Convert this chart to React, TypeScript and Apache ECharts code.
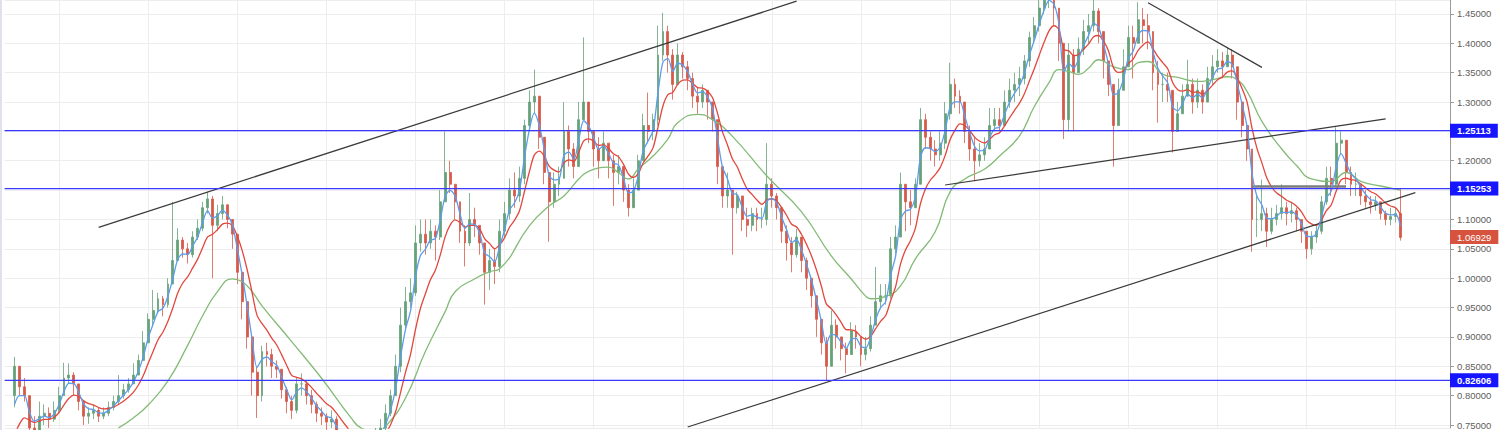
import React, { useEffect, useRef } from 'react';
import * as echarts from 'echarts';

// ---- data (one candle per ~3 weeks) ----
const firstOpen = 0.80;
const closes = [
  0.85, 0.815, 0.80, 0.745, 0.74, 0.765, 0.77, 0.76, 0.775, 0.80,
  0.83, 0.835, 0.82, 0.79, 0.765, 0.77, 0.775, 0.765, 0.77, 0.78,
  0.79, 0.80, 0.81, 0.82, 0.835, 0.86, 0.89, 0.93, 0.945, 0.965,
  0.955, 0.99, 1.03, 1.065, 1.05, 1.04, 1.07, 1.085, 1.12, 1.135,
  1.09, 1.11, 1.125, 1.10, 1.075, 1.01, 0.96, 0.90, 0.84, 0.80,
  0.875, 0.87, 0.85, 0.845, 0.81, 0.79, 0.775, 0.82, 0.82, 0.80,
  0.785, 0.77, 0.765, 0.755, 0.76, 0.735, 0.72, 0.71, 0.70, 0.705,
  0.70, 0.71, 0.72, 0.73, 0.745, 0.77, 0.80, 0.85, 0.92, 0.96,
  0.975, 1.06, 1.075, 1.06, 1.08, 1.07, 1.13, 1.18, 1.16, 1.13,
  1.08, 1.06, 1.10, 1.09, 1.06, 1.01, 1.03, 1.02, 1.08, 1.11,
  1.15, 1.14, 1.17, 1.26, 1.30, 1.31, 1.24, 1.18, 1.13, 1.16,
  1.17, 1.25, 1.22, 1.19, 1.27, 1.30, 1.25, 1.22, 1.20, 1.23,
  1.20, 1.18, 1.19, 1.15, 1.12, 1.15, 1.20, 1.26, 1.25, 1.27,
  1.38, 1.42, 1.38, 1.33, 1.38, 1.36, 1.34, 1.31, 1.30, 1.32,
  1.30, 1.27, 1.19, 1.14, 1.15, 1.12, 1.14, 1.10, 1.09, 1.11,
  1.10, 1.10, 1.16, 1.14, 1.12, 1.08, 1.06, 1.04, 1.07, 1.03,
  1.00, 0.97, 0.93, 0.89, 0.85, 0.92, 0.90, 0.88, 0.87, 0.91,
  0.90, 0.87, 0.88, 0.92, 0.96, 0.97, 0.97, 1.05, 1.07, 1.16,
  1.13, 1.12, 1.16, 1.27, 1.24, 1.22, 1.21, 1.23, 1.28, 1.33,
  1.31, 1.30, 1.25, 1.22, 1.20, 1.21, 1.22, 1.26, 1.27, 1.26,
  1.30, 1.32, 1.33, 1.34, 1.37, 1.41, 1.43, 1.46, 1.48, 1.49,
  1.46, 1.40, 1.27, 1.38, 1.35, 1.39, 1.42, 1.43, 1.455, 1.42,
  1.37, 1.33, 1.26, 1.32, 1.36, 1.41, 1.40, 1.44, 1.43, 1.42,
  1.35, 1.33, 1.33, 1.32, 1.25, 1.28, 1.31, 1.33, 1.30, 1.32,
  1.30, 1.34, 1.36, 1.37, 1.36, 1.38, 1.36, 1.30, 1.26, 1.22,
  1.10, 1.10, 1.11, 1.08, 1.10, 1.11, 1.12, 1.11, 1.115, 1.10,
  1.08, 1.05, 1.07, 1.08, 1.13, 1.17, 1.16, 1.23, 1.235, 1.18,
  1.16, 1.16, 1.14, 1.13, 1.125, 1.13, 1.11, 1.10, 1.105, 1.11,
  1.06929,
];
const highs = [
  0.866, 0.85, 0.83, 0.80, 0.765, 0.79, 0.785, 0.78, 0.79, 0.815,
  0.856, 0.855, 0.84, 0.82, 0.79, 0.78, 0.785, 0.78, 0.78, 0.79,
  0.80, 0.835, 0.82, 0.83, 0.855, 0.87, 0.91, 0.94, 0.98, 0.975,
  0.97, 1.00, 1.13, 1.085, 1.07, 1.06, 1.08, 1.10, 1.13, 1.147,
  1.14, 1.125, 1.14, 1.125, 1.10, 1.07, 1.00, 0.95, 0.89, 0.85,
  0.885, 0.89, 0.88, 0.86, 0.845, 0.815, 0.80, 0.83, 0.838, 0.825,
  0.81, 0.79, 0.78, 0.77, 0.775, 0.765, 0.74, 0.73, 0.72, 0.72,
  0.715, 0.725, 0.735, 0.745, 0.76, 0.785, 0.81, 0.87, 0.95, 0.985,
  1.0, 1.09, 1.10, 1.10, 1.10, 1.09, 1.15, 1.25, 1.20, 1.16,
  1.13, 1.09, 1.145, 1.12, 1.09, 1.06, 1.05, 1.05, 1.10, 1.13,
  1.17, 1.18, 1.19, 1.27, 1.32, 1.355, 1.31, 1.24, 1.18, 1.18,
  1.19, 1.30, 1.26, 1.23, 1.30, 1.41, 1.30, 1.25, 1.24, 1.25,
  1.23, 1.21, 1.21, 1.19, 1.16, 1.17, 1.21, 1.28, 1.316, 1.28,
  1.43, 1.452, 1.43, 1.39, 1.40, 1.385, 1.37, 1.35, 1.325, 1.33,
  1.32, 1.30, 1.27, 1.19, 1.18, 1.15, 1.147, 1.14, 1.12, 1.12,
  1.12, 1.12, 1.23, 1.17, 1.145, 1.12, 1.09, 1.07, 1.084, 1.07,
  1.035, 1.0, 0.97, 0.93, 0.90, 0.945, 0.93, 0.90, 0.89, 0.925,
  0.92, 0.90, 0.90, 0.935, 1.019, 0.99, 0.99, 1.07, 1.09, 1.18,
  1.16, 1.15, 1.17, 1.29, 1.28, 1.25, 1.235, 1.25, 1.30, 1.367,
  1.34, 1.32, 1.29, 1.26, 1.24, 1.23, 1.24, 1.29, 1.29, 1.29,
  1.32, 1.34, 1.35, 1.36, 1.38, 1.42, 1.445, 1.48, 1.50, 1.51,
  1.49, 1.45, 1.40, 1.40, 1.39, 1.41, 1.44, 1.45, 1.475, 1.46,
  1.42, 1.37, 1.33, 1.34, 1.39, 1.43, 1.43, 1.47, 1.46, 1.45,
  1.42, 1.37, 1.35, 1.35, 1.31, 1.30, 1.33, 1.372, 1.34, 1.34,
  1.33, 1.36, 1.38, 1.39, 1.385, 1.394, 1.39, 1.36, 1.30, 1.26,
  1.22, 1.14, 1.168, 1.12, 1.12, 1.125, 1.16, 1.13, 1.13, 1.12,
  1.10, 1.08, 1.08, 1.09, 1.14, 1.19, 1.19, 1.257, 1.25, 1.235,
  1.19, 1.18, 1.16, 1.15, 1.14, 1.14, 1.13, 1.115, 1.12, 1.12,
  1.152,
];
const lows = [
  0.78, 0.80, 0.79, 0.73, 0.72, 0.74, 0.75, 0.745, 0.755, 0.77,
  0.80, 0.82, 0.80, 0.775, 0.75, 0.752, 0.76, 0.755, 0.76, 0.765,
  0.775, 0.785, 0.795, 0.805, 0.82, 0.84, 0.86, 0.89, 0.92, 0.94,
  0.935, 0.95, 0.99, 1.03, 1.035, 1.025, 1.035, 1.065, 1.08, 1.11,
  1.00, 1.08, 1.10, 1.085, 1.05, 0.99, 0.93, 0.88, 0.80, 0.762,
  0.79, 0.85, 0.83, 0.83, 0.795, 0.77, 0.76, 0.77, 0.80, 0.785,
  0.77, 0.755, 0.75, 0.74, 0.745, 0.72, 0.71, 0.695, 0.69, 0.69,
  0.685, 0.695, 0.705, 0.715, 0.725, 0.74, 0.765, 0.80, 0.84, 0.91,
  0.95, 0.97, 1.045, 1.04, 1.05, 1.03, 1.065, 1.13, 1.145, 1.10,
  1.06, 1.02, 1.055, 1.07, 1.04, 0.955, 0.98, 0.99, 1.01, 1.07,
  1.10, 1.12, 1.13, 1.16, 1.25, 1.28, 1.22, 1.16, 1.062, 1.12,
  1.14, 1.17, 1.19, 1.17, 1.19, 1.27, 1.23, 1.19, 1.17, 1.20,
  1.17, 1.123, 1.16, 1.13, 1.105, 1.12, 1.15, 1.20, 1.23, 1.235,
  1.26, 1.37, 1.35, 1.304, 1.33, 1.34, 1.32, 1.29, 1.28, 1.29,
  1.27, 1.25, 1.16, 1.12, 1.12, 1.04, 1.11, 1.08, 1.07, 1.08,
  1.08, 1.085, 1.09, 1.12, 1.10, 1.06, 1.03, 1.01, 1.035, 1.01,
  0.98, 0.95, 0.90, 0.87, 0.826, 0.85, 0.88, 0.86, 0.838, 0.87,
  0.88, 0.85, 0.86, 0.875, 0.92, 0.95, 0.955, 0.965, 1.04, 1.07,
  1.08, 1.09, 1.12, 1.16, 1.22, 1.20, 1.19, 1.20, 1.22, 1.27,
  1.29, 1.28, 1.23, 1.20, 1.165, 1.19, 1.20, 1.22, 1.25, 1.25,
  1.26, 1.29, 1.30, 1.31, 1.33, 1.36, 1.40, 1.42, 1.45, 1.46,
  1.43, 1.37, 1.237, 1.25, 1.25, 1.35, 1.38, 1.40, 1.42, 1.40,
  1.34, 1.31, 1.19, 1.26, 1.32, 1.36, 1.34, 1.40, 1.40, 1.39,
  1.32, 1.265, 1.30, 1.30, 1.214, 1.25, 1.28, 1.31, 1.28, 1.29,
  1.28, 1.30, 1.33, 1.35, 1.34, 1.36, 1.34, 1.27, 1.24, 1.20,
  1.045, 1.07, 1.08, 1.053, 1.075, 1.09, 1.10, 1.09, 1.095, 1.08,
  1.06, 1.033, 1.04, 1.06, 1.075, 1.125, 1.14, 1.155, 1.21, 1.16,
  1.14, 1.14, 1.125, 1.12, 1.11, 1.115, 1.10, 1.09, 1.09, 1.095,
  1.064,
];

// slow (green) moving average: category index and value
const slowMaIndex = [
  23, 26, 29, 33, 37, 40, 43, 46, 48, 50,
  52, 58, 64, 70, 72, 75, 77, 81, 85, 89,
  91, 95, 98, 100, 106, 110, 113, 116, 118, 122,
  124, 126, 128, 131, 134, 136, 140, 143, 147, 154,
  161, 167, 171, 174, 175, 178, 181, 184, 188, 191,
  194, 198, 201, 205, 208, 211, 213, 215, 217, 219,
  221, 224, 227, 229, 231, 234, 237, 241, 244, 247,
  249, 251, 254, 258, 261, 264, 268, 271, 274, 278,
  282,
];
const slowMaValue = [
  0.745, 0.762, 0.784, 0.825, 0.886, 0.936, 0.977, 0.999, 0.994, 0.977,
  0.953, 0.892, 0.830, 0.762, 0.745, 0.739, 0.748, 0.796, 0.875, 0.943,
  0.977, 0.999, 1.011, 1.016, 1.089, 1.123, 1.140, 1.169, 1.182, 1.189,
  1.180, 1.169, 1.186, 1.208, 1.237, 1.265, 1.279, 1.270, 1.242, 1.174,
  1.113, 1.038, 0.999, 0.969, 0.965, 0.969, 0.987, 1.033, 1.079, 1.147,
  1.169, 1.186, 1.208, 1.242, 1.292, 1.333, 1.355, 1.352, 1.347, 1.358,
  1.372, 1.360, 1.355, 1.367, 1.369, 1.347, 1.342, 1.335, 1.338, 1.343,
  1.338, 1.318, 1.267, 1.220, 1.192, 1.169, 1.165, 1.180, 1.165, 1.157,
  1.150,
];

const levelLines = [1.25113, 1.15253, 0.82606];
const lastPrice = 1.06929;
const yTickValues = [0.75, 0.8, 0.85, 0.9, 0.95, 1.0, 1.05, 1.1, 1.15, 1.2, 1.25, 1.3, 1.35, 1.4, 1.45];
const hiddenTicks = [1.25, 1.15];
// fast (blue) and medium (red) exponential averages of the closes; seeds = their off-chart start values
const maPeriods = { blue: 3, red: 8 };
const maSeeds = { blue: 0.72, red: 0.70 };

// trend lines drawn on the chart: [startIndex, startValue, endIndex, endValue]
const trendLines = [
  [19, 1.0866, 160, 1.4717],
  [138, 0.7466, 285, 1.1458],
  [190, 1.1587, 279, 1.2714],
  [231, 1.4691, 254, 1.359],
];
const shelfLine = [252, 1.157, 271, 1.157];

const CATEGORY_COUNT = 293;
const LEAD = 2;
const Y_MIN = 0.74492;
const Y_MAX = 1.47373;
const FONT = '"Liberation Sans", Arial, sans-serif';

function buildCandles() {
  const out: any[] = [];
  for (let i = 0; i < LEAD; i++) out.push(['-', '-', '-', '-']);
  closes.forEach((c, k) => {
    const o = k === 0 ? firstOpen : closes[k - 1];
    const h = Math.max(highs[k], o, c);
    const l = Math.min(lows[k], o, c);
    out.push([o, c, l, h]);
  });
  return out;
}

function ema(period: number, seed: number) {
  const a = 2 / (period + 1);
  const out: any[] = [];
  for (let i = 0; i < LEAD; i++) out.push('-');
  let prev = seed;
  for (let k = 0; k < closes.length; k++) {
    prev = prev * (1 - a) + closes[k] * a;
    out.push(+prev.toFixed(5));
  }
  return out;
}

function isTick(v: number) {
  return yTickValues.some((t) => Math.abs(t - v) < 1e-6);
}

export default function App() {
  const ref = useRef<HTMLDivElement>(null);
  useEffect(() => {
    document.body.style.margin = '0';
    if (!ref.current) return;
    const chart = echarts.init(ref.current, undefined, { renderer: 'svg' });
    const cats = Array.from({ length: CATEGORY_COUNT }, (_, i) => String(i));

    const boxLabel = (bg: string, bold: boolean) => ({
      show: true,
      distance: 0,
      color: '#ffffff',
      fontWeight: bold ? 'bold' : 'normal',
      fontSize: 9.5,
      fontFamily: FONT,
      lineHeight: 11,
      backgroundColor: bg,
      padding: [2, 7, 1, 7],
    });

    const trendData = trendLines.map((t) => [
      { coord: [t[0], t[1]] },
      { coord: [t[2], t[3]] },
    ]);

    const shelfData = [[
      { coord: [shelfLine[0], shelfLine[1]] },
      { coord: [shelfLine[2], shelfLine[3]] },
    ]];

    const lineBase = { type: 'line', showSymbol: false, symbol: 'none', smooth: 0.3 };

    const levelSeries = levelLines.map((v, n) => ({
      type: 'line',
      name: 'level-' + n,
      data: cats.map(() => v),
      showSymbol: false,
      symbol: 'none',
      silent: true,
      lineStyle: { color: '#3a3aff', width: 1.2 },
      z: 6,
      endLabel: { ...boxLabel('#1515ff', true), formatter: v.toFixed(5) },
    }));

    chart.setOption({
      animation: false,
      backgroundColor: '#ffffff',
      grid: { left: 4.6, right: 50, top: 0, bottom: 0, containLabel: false },
      xAxis: {
        type: 'category',
        data: cats,
        boundaryGap: false,
        axisLine: { show: false },
        axisTick: { show: false },
        axisLabel: { show: false },
        splitLine: {
          show: true,
          interval: (idx: number) => idx >= 11 && (idx - 11) % 18 === 0,
          lineStyle: { color: '#ededed', width: 1 },
        },
      },
      yAxis: {
        type: 'value',
        position: 'right',
        min: Y_MIN,
        max: Y_MAX,
        splitNumber: 15,
        minInterval: 0.05,
        maxInterval: 0.05,
        axisLine: { show: true, lineStyle: { color: '#9a9a9a', width: 1 } },
        axisTick: { show: true, length: 4, lineStyle: { color: '#9a9a9a' } },
        axisLabel: {
          show: true,
          margin: 7,
          color: '#5e5e5e',
          fontSize: 9.5,
          fontFamily: FONT,
          showMinLabel: false,
          showMaxLabel: false,
          formatter: (v: number) => {
            if (!isTick(v)) return '';
            if (hiddenTicks.some((t) => Math.abs(t - v) < 1e-6)) return '';
            return v.toFixed(5);
          },
        },
        splitLine: { show: true, lineStyle: { color: '#ededed', width: 1 } },
      },
      series: [
        {
          type: 'candlestick',
          data: buildCandles(),
          barWidth: 2.4,
          itemStyle: {
            color: '#66a178',
            color0: '#d65a4a',
            borderColor: '#66a178',
            borderColor0: '#d65a4a',
            borderWidth: 0.8,
          },
          z: 2,
        },
        {
          type: 'line',
          name: 'ma-green',
          data: slowMaIndex.map((idx, n) => [idx, slowMaValue[n]]),
          showSymbol: false,
          symbol: 'none',
          smooth: 0.5,
          lineStyle: { color: '#83bb76', width: 1.3 },
          z: 3,
          markLine: {
            silent: true,
            symbol: ['none', 'none'],
            lineStyle: { color: 'rgba(0,0,0,0)', width: 0, type: 'solid' },
            label: { ...boxLabel('#d6543f', false), position: 'end', formatter: lastPrice.toFixed(5) },
            data: [{ yAxis: lastPrice }],
          },
        },
        {
          ...lineBase,
          name: 'ma-red',
          data: ema(maPeriods.red, maSeeds.red),
          lineStyle: { color: '#e2473d', width: 1.3 },
          z: 4,
          markLine: {
            silent: true,
            symbol: ['none', 'none'],
            lineStyle: { color: '#7d7d7d', width: 2.6, type: 'solid' },
            label: { show: false },
            data: shelfData,
          },
        },
        {
          ...lineBase,
          name: 'ma-blue',
          data: ema(maPeriods.blue, maSeeds.blue),
          lineStyle: { color: '#5c9ded', width: 1.3 },
          z: 5,
          markLine: {
            silent: true,
            symbol: ['none', 'none'],
            lineStyle: { color: '#3a3a3a', width: 1.2, type: 'solid' },
            label: { show: false },
            data: trendData,
          },
        },
        ...levelSeries,
      ],
    });
    return () => chart.dispose();
  }, []);

  return (
    <div style={{ position: 'relative', width: 1500, height: 430, background: '#ffffff', overflow: 'hidden' }}>
      <div ref={ref} style={{ position: 'absolute', left: 0, top: 0, width: 1500, height: 430 }} />
      <div style={{ position: 'absolute', left: 0, top: 0, width: 2, height: 430, background: '#dfe2ee' }} />
    </div>
  );
}
